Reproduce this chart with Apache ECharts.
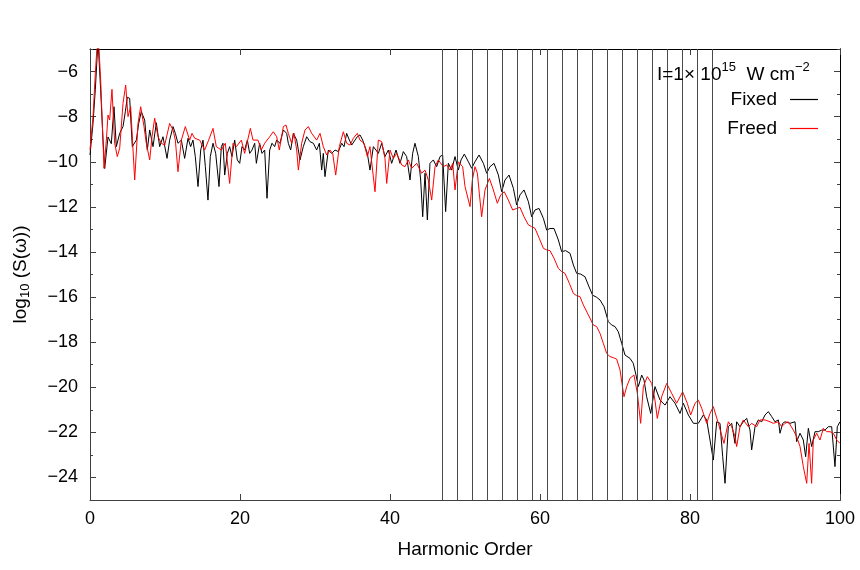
<!DOCTYPE html>
<html>
<head>
<meta charset="utf-8">
<script src="https://cdn.jsdelivr.net/npm/echarts@6/dist/echarts.min.js"></script>
<style>html,body{margin:0;padding:0;background:#fff}#c{width:860px;height:570px}</style>
</head>
<body>
<div id="c"></div>
<script>
// Harmonic order (x) and log10 S(omega) (y) for the "Fixed" case
const fixedH = [0,0.4,0.71,1.07,1.42,1.73,1.96,2.4,2.84,3.2,3.51,3.96,4.4,4.71,4.98,5.29,5.64,6.18,6.49,6.84,7.29,7.64,7.96,8.4,8.84,9.29,9.73,10.27,10.62,11.07,11.38,11.73,12.18,12.62,13.07,13.42,13.73,14.04,14.4,14.76,15.07,15.38,15.73,16.04,16.4,16.76,17.2,17.51,17.73,17.96,18.31,18.62,18.93,19.29,19.64,19.96,20.27,20.62,20.98,21.29,21.6,21.96,22.18,22.62,22.93,23.29,23.6,23.96,24.27,24.62,
24.89,25.33,25.78,26.22,26.44,26.76,27.11,27.56,28.0,28.44,28.89,29.33,29.78,30.22,30.58,30.89,31.11,31.33,31.78,32.22,32.67,33.11,33.56,33.87,34.22,34.58,34.89,35.33,35.64,36.0,36.36,36.67,36.98,37.33,37.78,38.13,38.44,38.89,39.33,39.78,40.22,40.8,41.33,41.78,42.22,42.67,43.02,43.33,43.78,44.09,44.36,44.67,44.98,45.33,45.78,46.22,46.67,47.02,47.42,47.78,
48.22,48.67,49.11,49.47,49.91,50.45,50.89,51.33,51.87,52.45,52.89,53.33,53.87,54.45,54.89,55.33,55.87,56.45,56.89,57.33,57.87,58.45,58.89,59.33,59.87,60.45,60.89,61.33,61.87,62.45,62.89,63.42,64.0,64.45,64.89,65.42,66.0,66.54,67.02,67.56,68.0,68.54,
69.11,69.56,70.0,70.44,70.89,71.33,72.0,72.44,72.8,73.11,73.56,73.87,74.22,74.76,75.33,76.0,76.67,77.33,78.0,78.67,79.11,79.78,80.45,
81.11,81.78,82.22,82.67,83.11,83.56,84.0,84.36,84.67,85.11,85.56,86.0,86.22,86.67,87.11,87.56,88.0,88.22,88.67,89.11,89.56,90.0,90.44,90.89,91.33,91.78,92.0,92.36,92.67,93.33,94.0,94.22,94.67,95.11,95.42,95.78,96.22,96.67,97.11,97.56,98.0,98.44,98.89,99.33,99.64,100];
const fixedLog = [-9.7,-8.3,-6.8,-4.6,-6.8,-9.0,-10.3,-8.9,-9.2,-7.56,-9.33,-8.74,-8.44,-7.78,-7.14,-7.19,-9.33,-9.04,-8.3,-7.78,-8.15,-9.48,-8.59,-9.33,-8.27,-9.33,-8.89,-9.85,-9.04,-8.44,-8.74,-9.18,-9.04,-9.85,-8.96,-9.33,-9.04,-9.77,-11.1,-9.48,-9.04,-10.22,-11.7,-9.77,-9.18,-9.63,-11.1,-9.33,-9.18,-10.59,-9.63,-9.33,-9.77,-9.04,-9.92,-10.07,-9.33,-9.48,-9.04,-9.63,-9.48,-9.18,-10.07,-9.18,-9.63,-9.48,-11.62,-9.48,-9.18,-9.33,
-9.04,-9.18,-8.59,-8.74,-9.18,-9.48,-8.74,-9.04,-9.92,-9.33,-8.89,-9.11,-9.18,-9.48,-9.18,-10.37,-9.63,-10.66,-9.48,-9.63,-9.48,-9.55,-9.18,-9.33,-8.74,-9.04,-9.26,-9.04,-8.89,-8.81,-9.04,-9.33,-9.63,-10.37,-9.33,-9.48,-9.63,-9.18,-9.77,-9.48,-10.07,-9.48,-10.07,-9.55,-9.77,-10.81,-9.63,-9.18,-9.77,-10.81,-12.44,-10.51,-12.58,-10.07,-9.92,-10.22,-9.77,-9.7,-12.21,-10.07,
-10.37,-9.77,-10.37,-9.92,-9.66,-10.0,-10.29,-10.0,-9.7,-10.07,-10.51,-10.22,-10.07,-10.59,-11.33,-10.81,-10.59,-11.18,-11.92,-11.47,-11.25,-11.77,-12.44,-12.14,-12.07,-12.51,-13.03,-12.96,-12.96,-13.47,-13.99,-13.94,-14.06,-14.58,-14.95,-14.98,-15.1,-15.55,-15.92,-16.01,-16.13,-16.43,
-17.09,-17.24,-17.31,-17.54,-18.05,-18.57,-18.72,-18.94,-19.46,-19.97,-19.46,-19.68,-20.42,-21.16,-19.97,-20.57,-20.79,-20.42,-20.71,-21.16,-20.71,-21.23,-21.6,
-21.6,-21.23,-21.45,-22.34,-23.23,-21.53,-21.6,-23.08,-24.26,-21.75,-21.6,-22.49,-21.53,-21.75,-21.53,-21.38,-21.9,-22.78,-21.75,-21.45,-21.53,-21.23,-21.08,-21.3,-21.53,-21.45,-22.04,-21.6,-21.53,-21.6,-21.53,-22.41,-22.04,-22.34,-23.08,-21.82,-22.63,-21.97,-21.97,-21.9,-21.9,-21.75,-21.75,-23.52,-21.75,-21.53];

// Harmonic order (x) and log10 S(omega) (y) for the "Freed" case
const freedH = [0,0.4,0.71,1.07,1.42,1.87,2.18,2.4,2.62,2.93,3.29,3.64,3.96,4.4,4.76,5.07,5.42,5.96,6.4,6.76,7.2,7.51,7.96,8.27,8.62,9.07,9.51,9.96,10.62,11.07,11.38,11.73,12.18,12.71,13.29,13.6,13.96,14.62,15.29,15.82,16.4,16.84,17.51,18.04,18.62,19.07,19.51,20.18,20.62,21.38,21.73,22.4,22.84,23.29,23.96,
24.44,24.89,25.24,25.78,26.13,26.44,26.89,27.2,27.56,27.78,28.22,28.67,29.11,29.56,30.22,30.67,31.11,31.56,32.0,32.36,32.76,33.24,33.78,34.22,34.67,35.11,35.64,36.0,36.53,36.98,37.33,38.0,38.44,38.89,39.33,39.56,40.0,40.44,40.89,41.56,42.0,42.44,42.89,43.56,44.22,44.67,45.11,45.56,46.0,46.44,47.11,47.56,48.0,48.36,48.67,49.11,
49.33,49.69,50.0,50.22,50.67,50.98,51.33,51.65,51.91,52.22,52.67,53.25,53.78,54.31,54.76,55.24,55.78,56.36,56.89,57.33,57.87,58.45,58.89,59.33,59.91,60.45,60.89,61.33,61.87,62.45,62.89,63.33,63.91,64.45,64.89,65.33,65.78,
66.67,67.11,67.56,68.0,68.44,68.89,69.33,69.78,70.22,70.67,70.93,71.2,71.56,72.0,72.53,72.98,73.42,73.78,74.31,74.89,75.33,75.64,
76.22,76.89,77.56,78.22,79.02,79.64,80.09,80.67,81.11,81.56,82.22,82.67,83.11,83.78,84.09,84.53,85.11,85.56,86.0,86.22,86.67,87.11,87.78,88.22,88.89,89.33,90.0,90.67,91.11,91.78,92.22,92.67,93.11,93.78,94.22,94.67,95.11,95.56,95.87,96.22,96.44,96.89,97.33,97.78,98.22,98.67,99.11,99.56,100];
const freedLog = [-9.48,-8.0,-6.08,-4.2,-6.37,-10.29,-9.04,-7.93,-8.15,-6.79,-9.18,-9.77,-9.4,-7.41,-6.6,-8.0,-7.56,-10.81,-8.3,-7.56,-8.44,-9.18,-9.92,-8.89,-8.07,-8.89,-9.18,-9.26,-8.3,-8.59,-9.04,-10.44,-9.04,-8.44,-9.04,-8.74,-8.96,-9.04,-9.48,-9.04,-8.52,-9.33,-9.48,-9.18,-10.96,-9.18,-9.33,-9.04,-9.63,-8.52,-9.04,-9.04,-9.48,-9.18,-8.89,
-8.67,-8.89,-9.48,-8.44,-8.37,-8.74,-9.18,-8.74,-9.48,-10.37,-9.18,-8.59,-8.44,-8.74,-9.04,-8.74,-9.33,-9.7,-9.48,-9.63,-10.59,-9.33,-8.67,-9.18,-9.26,-8.96,-8.74,-9.04,-9.18,-9.77,-9.33,-11.33,-9.04,-9.11,-9.85,-10.96,-9.48,-9.85,-9.63,-10.14,-10.22,-9.92,-10.29,-10.07,-10.51,-10.37,-10.81,-11.7,-10.22,-9.92,-10.22,-10.14,-10.37,-10.07,-11.25,-10.0,
-10.0,-10.22,-11.1,-11.18,-11.99,-10.81,-10.22,-10.51,-11.4,-12.44,-11.25,-10.74,-11.25,-11.84,-11.47,-11.33,-11.7,-12.14,-12.07,-12.02,-12.44,-12.8,-12.88,-12.95,-13.4,-13.84,-13.91,-13.94,-14.28,-14.73,-14.87,-14.95,-15.39,-15.84,-15.94,-15.98,-16.35,
-16.94,-17.24,-17.31,-17.61,-18.05,-18.5,-18.64,-18.69,-18.75,-19.23,-19.83,-20.42,-19.97,-19.6,-19.46,-20.27,-21.6,-19.97,-19.53,-19.83,-20.57,-21.38,
-20.42,-19.83,-20.27,-20.71,-20.2,-20.71,-21.23,-20.71,-20.57,-20.93,-21.6,-21.16,-20.86,-21.6,-21.97,-22.49,-21.53,-21.75,-22.19,-22.63,-21.75,-21.45,-21.75,-21.6,-21.75,-21.45,-21.45,-21.53,-21.6,-21.53,-21.75,-21.6,-21.53,-21.9,-22.19,-22.63,-23.52,-24.26,-22.49,-24.26,-22.34,-22.04,-22.34,-21.82,-21.97,-21.97,-22.04,-22.34,-22.49];

// Vertical marker lines at odd harmonics
const markerHarmonics = [47,49,51,53,55,57,59,61,63,65,67,69,71,73,75,77,79,81,83];

const xTicks = [0,20,40,60,80,100];
const yMajorTicks = [-24,-22,-20,-18,-16,-14,-12,-10,-8,-6];
const yMinorTicks = [-25,-23,-21,-19,-17,-15,-13,-11,-9,-7,-5];

const zip = (xs, ys) => xs.map((x, i) => [x, ys[i]]);
const fmt = v => (v < 0 ? '\u2212' + Math.abs(v) : String(v));
const FONT = 'Liberation Sans';
const AX = '#404040';

const chart = echarts.init(document.getElementById('c'), null, {renderer: 'canvas'});

const yBase = {
  type: 'value', min: -25, max: -5, splitLine: {show: false},
  axisLine: {show: true, lineStyle: {color: AX, width: 1}}
};

chart.setOption({
  animation: false,
  backgroundColor: '#fff',
  grid: {left: 90, right: 20, top: 49, bottom: 70, containLabel: false},
  title: {
    left: 652, top: 56,
    text: 'I=1\u00d7 10{sup|15}  W cm{sup|\u22122}',
    textStyle: {
      fontFamily: FONT, fontSize: 19, fontWeight: 'normal', color: '#000',
      rich: {sup: {fontFamily: FONT, fontSize: 13, padding: [0, 0, 15, 0], color: '#000'}}
    }
  },
  legend: {
    orient: 'vertical', right: 37, top: 85, align: 'right',
    icon: 'rect', itemWidth: 28, itemHeight: 1.2, itemGap: 10,
    textStyle: {fontFamily: FONT, fontSize: 19, color: '#000', padding: [0, 8, 0, 0], lineHeight: 19},
    data: ['Fixed', 'Freed']
  },
  xAxis: [{
    type: 'value', min: 0, max: 100, position: 'bottom',
    name: 'Harmonic Order', nameLocation: 'middle', nameGap: 40,
    nameTextStyle: {fontFamily: FONT, fontSize: 19, color: '#000'},
    axisLine: {show: true, lineStyle: {color: AX, width: 1}},
    axisTick: {show: true, inside: true, length: 6, customValues: xTicks, lineStyle: {color: AX}},
    axisLabel: {customValues: xTicks, formatter: fmt, margin: 10, fontFamily: FONT, fontSize: 18, color: '#000'},
    splitLine: {show: false}
  }, {
    type: 'value', min: 0, max: 100, position: 'top',
    axisLine: {show: true, onZero: false, lineStyle: {color: '#000', width: 1}},
    axisTick: {show: true, inside: true, length: 6, customValues: xTicks, lineStyle: {color: AX}},
    axisLabel: {show: false}, splitLine: {show: false}
  }],
  yAxis: [Object.assign({}, yBase, {
    position: 'left',
    name: 'log{sub|10} (S(\u03c9))', nameLocation: 'middle', nameGap: 58, nameRotate: 90,
    nameTextStyle: {fontFamily: FONT, fontSize: 19, color: '#000',
      rich: {sub: {fontFamily: FONT, fontSize: 13, padding: [10, 0, 0, 0], color: '#000'}}},
    axisTick: {show: true, inside: true, length: 6, customValues: yMajorTicks, lineStyle: {color: AX}},
    axisLabel: {customValues: yMajorTicks, formatter: fmt, margin: 12, fontFamily: FONT, fontSize: 18, color: '#000'}
  }), Object.assign({}, yBase, {
    position: 'left',
    axisTick: {show: true, inside: true, length: 3, customValues: yMinorTicks, lineStyle: {color: AX}},
    axisLabel: {show: false}
  }), Object.assign({}, yBase, {
    position: 'right', axisLine: {show: true, lineStyle: {color: '#000', width: 1}},
    axisTick: {show: true, inside: true, length: 6, customValues: yMajorTicks, lineStyle: {color: AX}},
    axisLabel: {show: false}
  }), Object.assign({}, yBase, {
    position: 'right', axisLine: {show: true, lineStyle: {color: '#000', width: 1}},
    axisTick: {show: true, inside: true, length: 3, customValues: yMinorTicks, lineStyle: {color: AX}},
    axisLabel: {show: false}
  })],
  series: [{
    name: 'markers', type: 'line', data: [], silent: true,
    markLine: {
      silent: true, symbol: ['none', 'none'], label: {show: false},
      lineStyle: {color: '#4a4a4a', width: 1, type: 'solid'},
      data: markerHarmonics.map(h => ({xAxis: h}))
    }
  }, {
    name: 'Fixed', type: 'line', data: zip(fixedH, fixedLog),
    symbol: 'none', clip: true,
    lineStyle: {color: '#000', width: 1}, itemStyle: {color: '#000'}
  }, {
    name: 'Freed', type: 'line', data: zip(freedH, freedLog),
    symbol: 'none', clip: true,
    lineStyle: {color: '#ff0000', width: 1}, itemStyle: {color: '#ff0000'}
  }]
});
</script>
</body>
</html>
